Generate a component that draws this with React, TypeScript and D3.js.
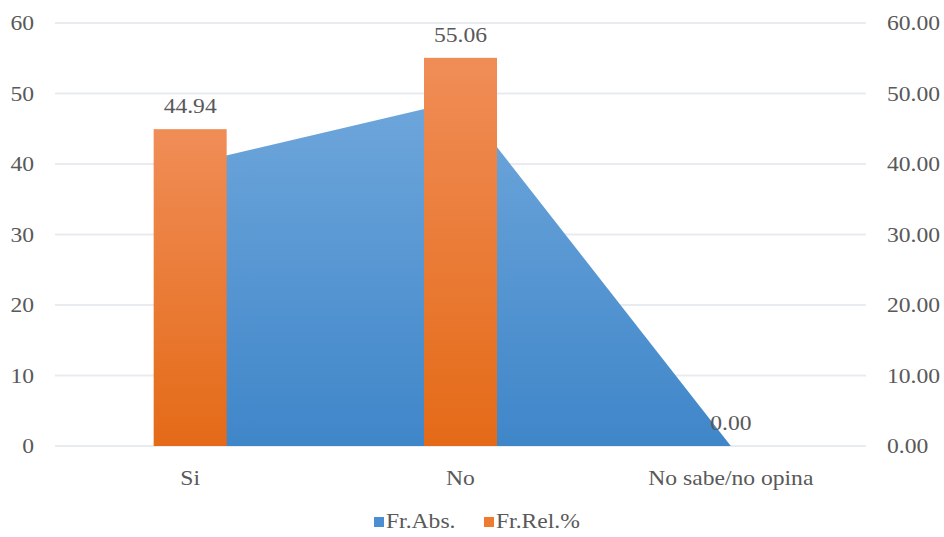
import React from "react";
import * as d3 from "d3";

const categories = ["Si", "No", "No sabe/no opina"];
const frAbs = [40, 49, 0];
const frRel = [44.94, 55.06, 0.0];
const leftTicks = [0, 10, 20, 30, 40, 50, 60];
const rightTicks = [0, 10, 20, 30, 40, 50, 60];

const W = 944;
const H = 537;
const left = 55;
const right = 866;
const top = 23;
const bottom = 446;
const TXT = "#595959";
const FS = 20;
const SX = 1.18;

function T(props: { x: number; y: number; anchor?: string; children: React.ReactNode }) {
  return (
    <text
      transform={`translate(${props.x},${props.y}) scale(${SX},1)`}
      textAnchor={props.anchor || "start"}
      style={{ fontFamily: "Liberation Serif", fontSize: FS, fill: TXT }}
    >
      {props.children}
    </text>
  );
}

export default function App() {
  const x = d3.scaleBand<string>().domain(categories).range([left, right]).paddingInner(0).paddingOuter(0);
  const yL = d3.scaleLinear().domain([0, 60]).range([bottom, top]);
  const yR = d3.scaleLinear().domain([0, 60]).range([bottom, top]);
  const cx = (c: string) => (x(c) as number) + x.bandwidth() / 2;
  const barW = x.bandwidth() * 0.27;

  const area = d3
    .area<number>()
    .x((_, i) => cx(categories[i]))
    .y0(bottom)
    .y1((d) => yL(d));

  return (
    <svg width={W} height={H} style={{ position: "absolute", left: 0, top: 0, background: "#fff" }}>
      <defs>
        <linearGradient id="gBlue" x1="0" y1="0" x2="0" y2="1">
          <stop offset="0" stopColor="#6EA6DB" />
          <stop offset="1" stopColor="#3F86C9" />
        </linearGradient>
        <linearGradient id="gOrange" x1="0" y1="0" x2="0" y2="1">
          <stop offset="0" stopColor="#F08D57" />
          <stop offset="1" stopColor="#E46A17" />
        </linearGradient>
      </defs>
      {leftTicks.map((t) => (
        <line key={"g" + t} x1={left} x2={right} y1={yL(t)} y2={yL(t)} stroke="#E8EBF0" strokeWidth={2} />
      ))}
      <path d={area(frAbs) || ""} fill="url(#gBlue)" />
      {categories.map((c, i) => (
        <rect key={"b" + c} x={cx(c) - barW / 2} y={yR(frRel[i])} width={barW} height={bottom - yR(frRel[i])} fill="url(#gOrange)" />
      ))}
      {categories.map((c, i) => (
        <T key={"l" + c} x={cx(c)} y={yR(frRel[i]) - 16} anchor="middle">
          {frRel[i].toFixed(2)}
        </T>
      ))}
      {leftTicks.map((t) => (
        <T key={"lt" + t} x={34} y={yL(t) + 7} anchor="end">
          {t}
        </T>
      ))}
      {rightTicks.map((t) => (
        <T key={"rt" + t} x={887} y={yR(t) + 7}>
          {t.toFixed(2)}
        </T>
      ))}
      {categories.map((c) => (
        <T key={"c" + c} x={cx(c)} y={485} anchor="middle">
          {c}
        </T>
      ))}
      <g>
        <rect x={374} y={517} width={10} height={10} fill="#4A8FD3" />
        <T x={386} y={528}>Fr.Abs.</T>
        <rect x={484} y={517} width={10} height={10} fill="#EE7B2E" />
        <T x={496} y={528}>Fr.Rel.%</T>
      </g>
    </svg>
  );
}
